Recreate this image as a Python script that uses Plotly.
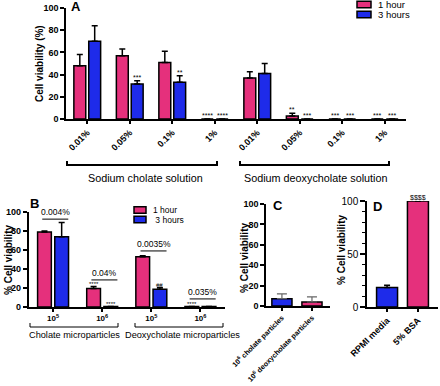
import plotly.graph_objects as go

# ---------------- data ----------------
a_labels = ["0.01%", "0.05%", "0.1%", "1%", "0.01%", "0.05%", "0.1%", "1%"]
a_1h = [48, 57, 51, 0, 37, 2.7, 0, 0]
a_1h_err = [10, 6, 10, 0, 5.5, 2.5, 0, 0]
a_3h = [70, 31.5, 33, 0, 41, 0, 0, 0]
a_3h_err = [14, 3, 6, 0, 9, 0, 0, 0]
a_1h_sig = ["", "", "", "****", "", "**", "***", "***"]
a_3h_sig = ["", "***", "**", "****", "", "***", "***", "***"]

b_labels = ["10<sup>5</sup>", "10<sup>6</sup>", "10<sup>5</sup>", "10<sup>6</sup>"]
b_1h = [79, 19.5, 53, 0.5]
b_1h_err = [1, 2, 1, 0]
b_3h = [74, 0.5, 18.7, 0.5]
b_3h_err = [15, 0, 1.7, 0]
b_1h_sig = ["", "****", "", "****"]
b_3h_sig = ["", "****", "##", ""]
b_conc = ["0.004%", "0.04%", "0.0035%", "0.035%"]
b_conc_y = [92.5, 28.5, 59, 8.5]

c_labels = ["10<sup>6</sup> cholate particles", "10<sup>6</sup> deoxycholate particles"]
c_vals = [7.2, 3.9]
c_err = [4.6, 5.0]

d_labels = ["RPMI media", "5% BSA"]
d_vals = [18.4, 100]
d_err = [2.2, 0]
d_sig = ["", "$$$$"]

PINK = "#E5307C"
BLUE = "#1E2BEA"
FONT = "Arial, Liberation Sans, sans-serif"
W, H = 440, 386

def px(x):
    return x / W

def py(y):
    return 1 - y / H

fig = go.Figure()
OFF = 0.175

def err(arr):
    return dict(type="data", array=arr, arrayminus=[0] * len(arr), symmetric=False,
                color="black", thickness=1.5, width=3)

# Panel A
xa = list(range(len(a_labels)))
fig.add_trace(go.Bar(x=xa, y=a_1h, error_y=err(a_1h_err), marker=dict(color=PINK, line=dict(color="black", width=1.5)),
                     xaxis="x", yaxis="y", showlegend=False))
fig.add_trace(go.Bar(x=xa, y=a_3h, error_y=err(a_3h_err), marker=dict(color=BLUE, line=dict(color="black", width=1.5)),
                     xaxis="x", yaxis="y", showlegend=False))
# Panel B
xb = list(range(len(b_labels)))
fig.add_trace(go.Bar(x=xb, y=b_1h, error_y=err(b_1h_err), marker=dict(color=PINK, line=dict(color="black", width=1.5)),
                     xaxis="x2", yaxis="y2", showlegend=False))
fig.add_trace(go.Bar(x=xb, y=b_3h, error_y=err(b_3h_err), marker=dict(color=BLUE, line=dict(color="black", width=1.5)),
                     xaxis="x2", yaxis="y2", showlegend=False))
# Panel C
xc = list(range(len(c_labels)))
fig.add_trace(go.Bar(x=xc, y=c_vals, width=0.67,
                     error_y=dict(type="data", array=c_err, arrayminus=[0, 0], symmetric=False, color="#666", thickness=1.2, width=5),
                     marker=dict(color=[BLUE, PINK], line=dict(color="black", width=1.5)),
                     xaxis="x3", yaxis="y3", showlegend=False))
# Panel D
xd = list(range(len(d_labels)))
fig.add_trace(go.Bar(x=xd, y=d_vals, width=0.68, error_y=err(d_err),
                     marker=dict(color=[BLUE, PINK], line=dict(color="black", width=1.5)),
                     xaxis="x4", yaxis="y4", showlegend=False))

tickb = dict(family=FONT, size=9, color="black", weight="bold")
axis_common = dict(showline=True, linecolor="black", linewidth=1.5, ticks="outside", tickcolor="black",
                   tickwidth=1.5, showgrid=False, zeroline=False, automargin=False)

fig.update_layout(
    width=W, height=H, margin=dict(l=0, r=0, t=0, b=0, autoexpand=False),
    paper_bgcolor="white", plot_bgcolor="white",
    barmode="group", bargap=0.3, bargroupgap=0.2,
    font=dict(family=FONT, color="black"),
    xaxis=dict(domain=[px(66), px(406)], anchor="y", range=[-0.5, 7.5], tickvals=xa, ticktext=a_labels,
               tickangle=-45, ticklen=3, tickfont=dict(family=FONT, size=9, color="black", weight="bold"), **axis_common),
    yaxis=dict(domain=[py(119), py(8)], anchor="x", range=[0, 100], tickvals=[0, 20, 40, 60, 80, 100],
               ticklen=4, tickfont=tickb, **axis_common),
    xaxis2=dict(domain=[px(28.5), px(225)], anchor="y2", range=[-0.5, 3.5], tickvals=xb, ticktext=b_labels,
                ticklen=3, tickfont=dict(family=FONT, size=8, color="black", weight="bold"), **axis_common),
    yaxis2=dict(domain=[py(307), py(212)], anchor="x2", range=[0, 100], tickvals=[0, 20, 40, 60, 80, 100],
                ticklen=4, tickfont=tickb, **axis_common),
    xaxis3=dict(domain=[px(266), px(330)], anchor="y3", range=[-0.53, 1.6], tickvals=xc, ticktext=c_labels,
                tickangle=-45, ticklen=3, tickfont=dict(family=FONT, size=7.2, color="black", weight="bold"), **axis_common),
    yaxis3=dict(domain=[py(306), py(204)], anchor="x3", range=[0, 100], tickvals=[0, 20, 40, 60, 80, 100],
                ticklen=4, tickfont=tickb, **axis_common),
    xaxis4=dict(domain=[px(367), px(438)], anchor="y4", range=[-0.65, 1.65], tickvals=xd, ticktext=d_labels,
                tickangle=-45, ticklen=3, tickfont=dict(family=FONT, size=9, color="black", weight="bold"), **axis_common),
    yaxis4=dict(domain=[py(307), py(201)], anchor="x4", range=[0, 100], tickvals=[0, 50, 100],
                ticklen=5, tickfont=dict(family=FONT, size=10, color="black"),
                minor=dict(dtick=10, ticks="outside", ticklen=3, tickcolor="black", tickwidth=1), **axis_common),
)

ann = []
shapes = []

def label(x, y, text, size=11, bold=False, angle=0, xanchor="center", yanchor="middle"):
    ann.append(dict(x=px(x), y=py(y), xref="paper", yref="paper", text=text, showarrow=False,
                    font=dict(family=FONT, size=size, color="black", weight="bold" if bold else "normal"),
                    textangle=angle, xanchor=xanchor, yanchor=yanchor))

# Panel letters
label(69, 7, "A", 13, True, xanchor="left")
label(28, 203, "B", 13, True, xanchor="left")
label(271, 205, "C", 13, True, xanchor="left")
label(371, 206, "D", 13, True, xanchor="left")

# Y titles
label(39, 64, "Cell viability (%)", 10, True, -90)
label(8, 260, "% Cell viability", 10, True, -90)
label(244, 258, "% Cell viability", 10, True, -90)
label(341, 250, "% Cell viability", 10, True, -90)

# Stars panel A
for i in range(len(a_labels)):
    if a_1h_sig[i]:
        ann.append(dict(x=i - OFF, y=a_1h[i] + a_1h_err[i], xref="x", yref="y", text=a_1h_sig[i], showarrow=False,
                        font=dict(family=FONT, size=7, color="black"), yanchor="bottom", yshift=-2))
    if a_3h_sig[i]:
        ann.append(dict(x=i + OFF, y=a_3h[i] + a_3h_err[i], xref="x", yref="y", text=a_3h_sig[i], showarrow=False,
                        font=dict(family=FONT, size=7, color="black"), yanchor="bottom", yshift=-2))
# Stars panel B
for i in range(len(b_labels)):
    if b_1h_sig[i]:
        ann.append(dict(x=i - OFF, y=b_1h[i] + b_1h_err[i], xref="x2", yref="y2", text=b_1h_sig[i], showarrow=False,
                        font=dict(family=FONT, size=6, color="black"), yanchor="bottom", yshift=-2))
    if b_3h_sig[i]:
        ann.append(dict(x=i + OFF, y=b_3h[i] + b_3h_err[i], xref="x2", yref="y2", text=b_3h_sig[i], showarrow=False,
                        font=dict(family=FONT, size=6, color="black"), yanchor="bottom", yshift=-2))
    # concentration labels with underline
    ann.append(dict(x=i + 0.05, y=b_conc_y[i], xref="x2", yref="y2", text=b_conc[i], showarrow=False,
                    font=dict(family=FONT, size=8.5, color="black"), yanchor="bottom", yshift=0))
    shapes.append(dict(type="line", xref="x2", yref="y2", x0=i - 0.22, x1=i + 0.31, y0=b_conc_y[i], y1=b_conc_y[i],
                       line=dict(color="black", width=1)))
# Panel D sig
for i in range(len(d_labels)):
    if d_sig[i]:
        ann.append(dict(x=i, y=d_vals[i] + d_err[i], xref="x4", yref="y4", text=d_sig[i], showarrow=False,
                        font=dict(family=FONT, size=7, color="black"), yanchor="bottom", yshift=-2))

# Brackets
def bracket(x0, x1, y, h, w):
    shapes.append(dict(type="path", xref="paper", yref="paper",
                       path=f"M {px(x0)} {py(y - h)} L {px(x0)} {py(y)} L {px(x1)} {py(y)} L {px(x1)} {py(y - h)}",
                       line=dict(color="black", width=w)))

bracket(67, 217, 165, 4, 2)
bracket(240, 389, 165, 4, 2)
label(145, 178, "Sodium cholate solution", 10.8)
label(315, 178, "Sodium deoxycholate solution", 10.8)

bracket(30, 118, 327, 4, 1)
bracket(135, 223, 327, 4, 1)
label(74, 335, "Cholate microparticles", 9.2)
label(182, 335, "Deoxycholate microparticles", 9.2)

# Legends
def legend_item(x, y, color, text, size=11, bw=14):
    shapes.append(dict(type="rect", xref="paper", yref="paper", x0=px(x), x1=px(x + bw), y0=py(y + 3.2), y1=py(y - 3.2),
                       fillcolor=color, line=dict(color="black", width=1.5)))
    label(x + bw + 5, y, text, size, xanchor="left")

legend_item(357, 4.5, PINK, "1 hour", 9.5)
legend_item(357, 14.5, BLUE, "3 hours", 9.5)
legend_item(134, 210, PINK, "1 hour", 8.5, bw=12)
legend_item(134, 219.5, BLUE, " 3 hours", 8.5, bw=12)

fig.update_layout(annotations=ann, shapes=shapes)
fig.write_html("out.html", config={"displayModeBar": False},
               post_script="document.body.style.margin='0';document.body.style.overflow='hidden';")
